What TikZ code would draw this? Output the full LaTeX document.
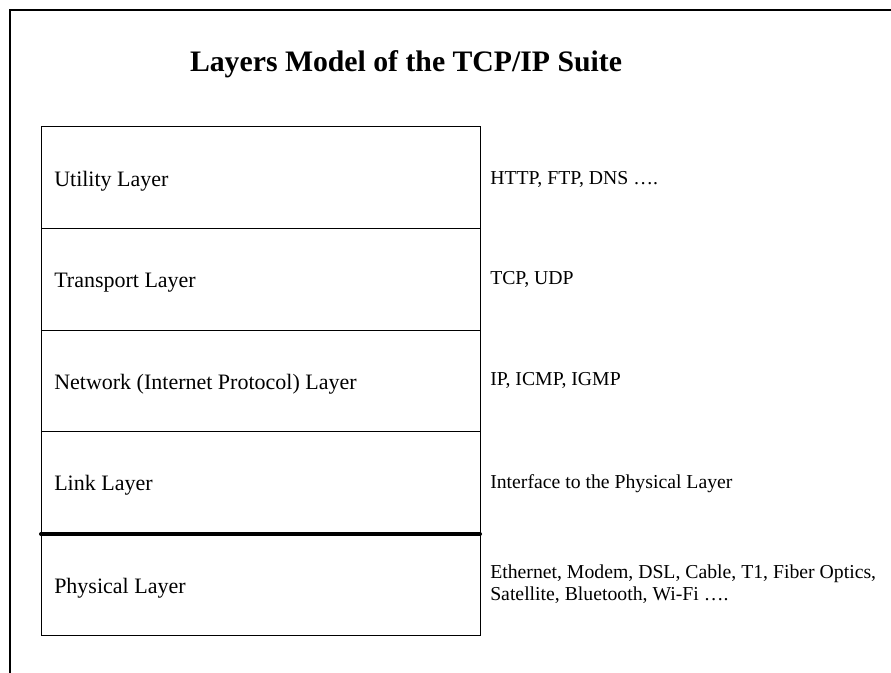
\documentclass[tikz,border=0pt]{standalone}
\usepackage{fontspec}
\setmainfont{Liberation Serif}
\tikzset{
  layertext/.style={anchor=base west, inner sep=0pt, font=\fontsize{16.5pt}{19pt}\selectfont},
  prototext/.style={anchor=base west, inner sep=0pt, align=left, font=\fontsize{14.8pt}{16.5pt}\selectfont},
  thinline/.style={line width=0.75pt},
}
\begin{document}
\begin{tikzpicture}[x=0.75pt,y=-0.75pt]
\useasboundingbox (0,0) rectangle (891,673);
\draw[line width=1.6pt] (891,10) -- (10,10) -- (10,673);
\node(title) [anchor=base, inner sep=0pt, font=\fontsize{22.3pt}{26pt}\selectfont\bfseries] at (406,72) {Layers Model of the TCP/IP Suite};
%
\draw[thinline] (41,127) rectangle (480,635);
\draw[thinline] (41,228.5) -- (480,228.5);
\draw[thinline] (41,330) -- (480,330);
\draw[thinline] (41,431.5) -- (480,431.5);
\draw[line width=3pt, line cap=round] (41,534) -- (480,534);
%
\node(utility) [layertext] at (54,186.5) {Utility Layer};
\node(transport) [layertext] at (54,287.5) {Transport Layer};
\node(network) [layertext] at (54,389) {Network (Internet Protocol) Layer};
\node(link) [layertext] at (54,490.5) {Link Layer};
\node(physical) [layertext] at (54,593) {Physical Layer};
%
\node(utilityproto) [prototext] at (490,184.5) {HTTP, FTP, DNS \dots.};
\node(transportproto) [prototext] at (490,284.5) {TCP, UDP};
\node(networkproto) [prototext] at (490,385.5) {IP, ICMP, IGMP};
\node(linkproto) [prototext] at (490,488.5) {Interface to the Physical Layer};
\node(physicalproto) [prototext] at (490,600) {Ethernet, Modem, DSL, Cable, T1, Fiber Optics,\\ Satellite, Bluetooth, Wi-Fi \dots.};
\end{tikzpicture}
\end{document}
